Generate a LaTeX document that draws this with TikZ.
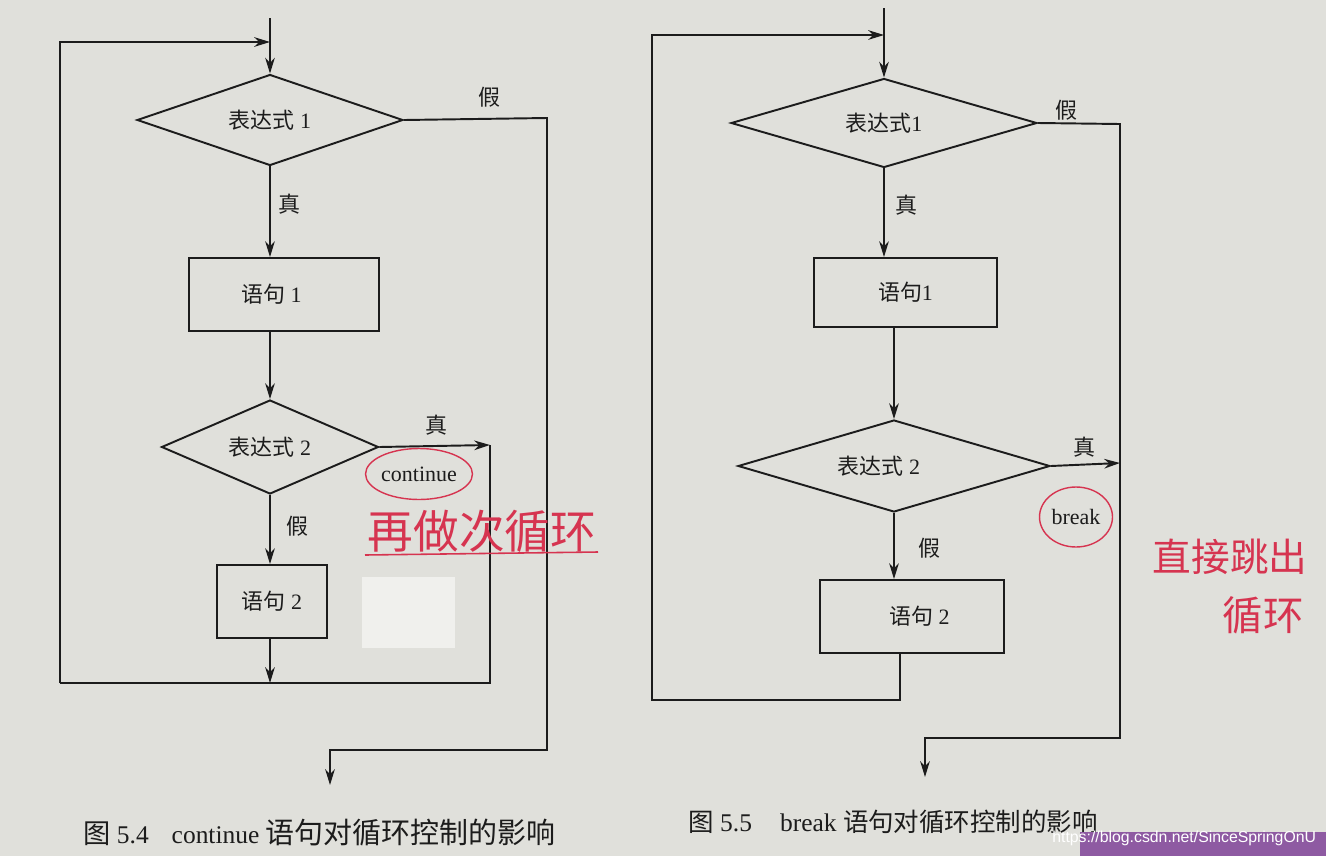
\documentclass[tikz,border=0pt]{standalone}
\usepackage{fontspec}
\setmainfont{Liberation Serif}
\newfontfamily\cjk{Noto Sans CJK SC}
\newfontfamily\wmfont{Liberation Sans}
\usetikzlibrary{shapes.geometric,arrows.meta}
\definecolor{paper}{RGB}{224,224,219}
\definecolor{ink}{RGB}{28,28,28}
\definecolor{pen}{RGB}{214,52,80}
\definecolor{wmbar}{RGB}{142,90,162}
\definecolor{patch}{RGB}{240,240,237}
\begin{document}
\begin{tikzpicture}[x=0.02cm,y=-0.02cm,
  flow/.style={draw=ink,line width=1.1pt},
  arr/.style={flow,-{Stealth[length=9pt,width=5.5pt]}},
  txt/.style={font=\fontsize{12.5}{14}\selectfont,text=ink},
  dia/.style={txt,draw=ink,line width=1.1pt,diamond,aspect=3,inner sep=0pt},
  stbox/.style={txt,draw=ink,line width=1.1pt,rectangle,inner sep=0pt},
  lbl/.style={font=\cjk\fontsize{12.5}{14}\selectfont,text=ink,inner sep=0pt},
  figcaption/.style={font=\fontsize{14.5}{16}\selectfont,text=ink,inner sep=0pt,anchor=west},
  ring/.style={txt,draw=pen,line width=0.8pt,ellipse,inner sep=0pt},
  hand/.style={font=\cjk,text=pen,inner sep=0pt}]
\useasboundingbox (0,0) rectangle (1326,856);
\fill[paper] (0,0) rectangle (1326,856);
\fill[patch] (362,577) rectangle (455,648);

% ---------------- Figure 5.4 (continue) ----------------
\node[dia,minimum width=5.32cm,minimum height=1.82cm] (L1) at (270,120) {{\cjk 表达式} 1};
\node[stbox,minimum width=3.8cm,minimum height=1.46cm] (LS1) at (284,294.5) {\hspace*{-0.5cm}{\cjk 语句} 1};
\node[dia,minimum width=4.34cm,minimum height=1.88cm] (L2) at (270,447) {{\cjk 表达式} 2};
\node[stbox,minimum width=2.2cm,minimum height=1.46cm] (LS2) at (272,601.5) {{\cjk 语句} 2};

\coordinate (Ltop) at (270,18);
\coordinate (Lin) at (270,42);
\coordinate (Lc) at (490,445);
\coordinate (Lcb) at (490,683);
\coordinate (Lbm) at (270,683);
\coordinate (Lbl) at (60,683);
\coordinate (Ltl) at (60,42);
\coordinate (Lf) at (547,118);
\coordinate (Lfb) at (547,750);
\coordinate (Lfo) at (330,750);
\coordinate (Lend) at (330,785);

\draw[arr] (Ltop) -- (L1.north);
\draw[arr] (L1.south) -- (L1.south |- LS1.north);
\draw[arr] (L1.south |- LS1.south) -- (L2.north);
\draw[arr] (L2.east) -- (Lc);
\draw[flow] (Lc) -- (Lcb) -- (Lbl);
\draw[arr] (Lbl) -- (Ltl) -- (Lin);
\draw[arr] (L2.south) -- (L2.south |- LS2.north);
\draw[arr] (L2.south |- LS2.south) -- (Lbm);
\draw[arr] (L1.east) -- (Lf) -- (Lfb) -- (Lfo) -- (Lend);

\node[lbl] (Lt1) at (289,204) {真};
\node[lbl] (Lf1) at (489,97) {假};
\node[lbl] (Lt2) at (436,425) {真};
\node[lbl] (Lf2) at (297,526) {假};

\node[ring,minimum width=2.04cm,minimum height=1.02cm] (Lcont) at (419,474) {continue};
\node[hand,font=\cjk\fontsize{26}{28}\selectfont] (Lnote) at (482,531) {再做次循环};
\draw[pen,line width=0.9pt] (365,555) -- (598,552);

\node[figcaption] (Lcap) at (83,833) {{\cjk\fontsize{15.5}{17}\selectfont 图} 5.4\hspace{0.9em}continue {\cjk\fontsize{16.5}{18}\selectfont 语句对循环控制的影响}};

% ---------------- Figure 5.5 (break) ----------------
\node[dia,minimum width=6.12cm,minimum height=1.78cm] (R1) at (884,123) {{\cjk 表达式}1};
\node[stbox,minimum width=3.66cm,minimum height=1.38cm] (RS1) at (905.5,292.5) {{\cjk 语句}1};
\node[dia,minimum width=6.24cm,minimum height=1.84cm] (R2) at (894,466) {\hspace*{-0.6cm}{\cjk 表达式} 2};
\node[stbox,minimum width=3.68cm,minimum height=1.46cm] (RS2) at (912,616.5) {\hspace*{0.3cm}{\cjk 语句} 2};

\coordinate (Rtop) at (884,8);
\coordinate (Rin) at (884,35);
\coordinate (Rt) at (1120,463);
\coordinate (Rf) at (1120,124);
\coordinate (Rfb) at (1120,738);
\coordinate (Rfo) at (925,738);
\coordinate (Rend) at (925,777);
\coordinate (Rb) at (900,700);
\coordinate (Rbl) at (652,700);
\coordinate (Rtl) at (652,35);

\draw[arr] (Rtop) -- (R1.north);
\draw[arr] (R1.south) -- (R1.south |- RS1.north);
\draw[arr] (R2.north |- RS1.south) -- (R2.north);
\draw[arr] (R2.east) -- (Rt);
\draw[arr] (R2.south) -- (R2.south |- RS2.north);
\draw[arr] (Rb |- RS2.south) -- (Rb) -- (Rbl) -- (Rtl) -- (Rin);
\draw[arr] (R1.east) -- (Rf) -- (Rfb) -- (Rfo) -- (Rend);

\node[lbl] (Rf1) at (1066,110) {假};
\node[lbl] (Rt1) at (906,205) {真};
\node[lbl] (Rt2) at (1084,447) {真};
\node[lbl] (Rf2) at (929,548) {假};

\node[ring,minimum width=1.46cm,minimum height=1.2cm] (Rbrk) at (1076,517) {break};
\node[hand,font=\cjk\fontsize{22}{24}\selectfont] (Rnote1) at (1230,557) {直接跳出};
\node[hand,font=\cjk\fontsize{23}{25}\selectfont] (Rnote2) at (1263,615) {循环};

\node[figcaption] (Rcap) at (688,822) {{\cjk 图} 5.5\hspace{1.1em}break {\cjk 语句对循环控制的影响}};

% ---------------- watermark ----------------
\fill[wmbar] (1080,832) rectangle (1326,856);
\node[anchor=west,inner sep=0pt,text=white,font=\wmfont\fontsize{9}{10}\selectfont] (wm) at (1052,838) {https://blog.csdn.net/SinceSpringOnU};
\end{tikzpicture}
\end{document}
